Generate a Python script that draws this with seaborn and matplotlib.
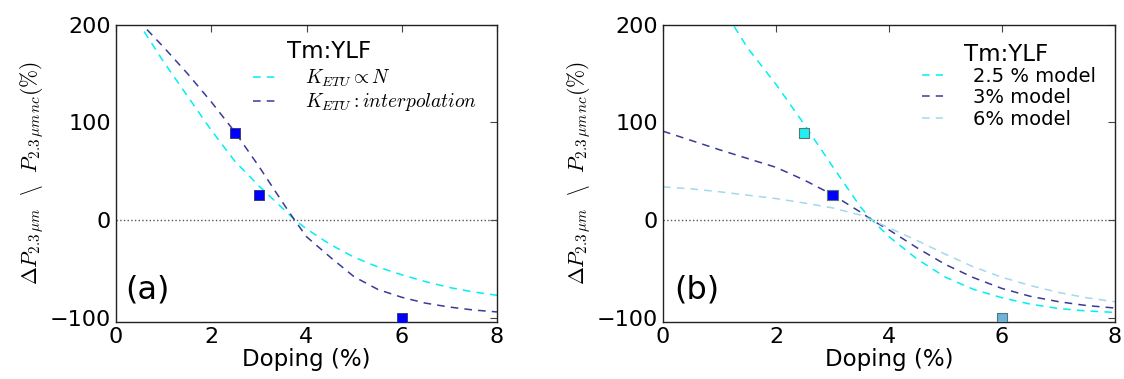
import matplotlib
matplotlib.use("Agg")
import matplotlib.pyplot as plt
import seaborn as sns

# ---- data ----
# panel (a): two K_ETU models
xa_prop = [0.59, 1.0, 1.5, 2.0, 2.5, 3.0, 3.5, 3.76, 4.0, 4.5, 5.0, 5.5, 6.0, 6.5, 7.0, 7.5, 8.0]
ya_prop = [193, 162, 127, 92, 60, 35, 12, 0, -9, -25, -38, -48, -56, -63, -69, -73.5, -77]
xa_interp = [0.65, 1.0, 1.5, 2.0, 2.5, 3.0, 3.5, 3.75, 4.0, 4.5, 5.0, 5.5, 6.0, 6.5, 7.0, 7.5, 8.0]
ya_interp = [195, 177, 150, 121, 90, 55, 18, 0, -17, -38, -58, -71, -79, -85, -89, -92, -94]

# panel (b): three fitted models
xb = [0.0, 0.5, 1.0, 1.5, 2.0, 2.5, 3.0, 3.5, 3.7, 4.0, 4.5, 5.0, 5.5, 6.0, 6.5, 7.0, 7.5, 8.0]
yb_25 = [None, None, 222, 176, 139, 98, 55, 13, 0, -17, -40, -58.5, -71, -79.5, -86, -90.5, -93, -94.5]
yb_3 = [91, 81.5, 72, 63, 54, 41, 26, 8, 0, -10, -28.5, -45.5, -59, -70, -78, -83.5, -87.5, -90]
yb_6 = [34, 32, 29, 25.5, 22, 17.5, 12.5, 5, 0, -8, -21, -35, -48, -58.5, -67, -74, -79.5, -83.6]

# measured points
x_meas = [2.5, 3.0, 6.0]
y_meas = [89, 26, -100]

CYAN = "#00f0f0"
NAVY = "#3a3a98"
SKY = "#a3d8ef"

sns.set_style("white")
plt.rcParams.update({
    "font.family": ["DejaVu Sans"],
    "mathtext.fontset": "cm",
    "text.color": "black",
    "axes.labelcolor": "black",
    "xtick.color": "black",
    "ytick.color": "black",
    "xtick.direction": "in",
    "ytick.direction": "in",
    "xtick.top": True,
    "ytick.right": True,
    "xtick.major.size": 5,
    "ytick.major.size": 5,
    "axes.edgecolor": "#222222",
    "axes.linewidth": 1.0,
})

fig = plt.figure(figsize=(11.24, 3.79), dpi=100)
ax_a = fig.add_axes([116 / 1124, 57.3 / 379, 381 / 1124, 297 / 379])
ax_b = fig.add_axes([663 / 1124, 57.3 / 379, 452 / 1124, 297 / 379])

dash = (5, 4)

# --- panel (a)
sns.lineplot(x=xa_prop, y=ya_prop, ax=ax_a, color=CYAN, lw=1.1, sort=False,
             estimator=None, label=r"$K_{ETU} \propto N$")
sns.lineplot(x=xa_interp, y=ya_interp, ax=ax_a, color=NAVY, lw=1.1, sort=False,
             estimator=None, label=r"$K_{ETU}: interpolation$")
for ln in ax_a.lines:
    ln.set_dashes(dash)
sns.scatterplot(x=x_meas, y=y_meas, ax=ax_a, marker="s", s=55, color="#0000ff",
                edgecolor="#333366", linewidth=0.6, zorder=5, legend=False)

# --- panel (b)
b_lines = [(yb_25, CYAN, "2.5 % model"), (yb_3, NAVY, "3% model"), (yb_6, SKY, "6% model")]
for ys, col, lab in b_lines:
    pts = [(x, y) for x, y in zip(xb, ys) if y is not None]
    sns.lineplot(x=[p[0] for p in pts], y=[p[1] for p in pts], ax=ax_b, color=col,
                 lw=1.1, sort=False, estimator=None, label=lab)
for ln in ax_b.lines:
    ln.set_dashes(dash)
sns.scatterplot(x=x_meas, y=y_meas, ax=ax_b, marker="s", s=55,
                hue=["c", "b", "s"], palette={"c": "#20f0f0", "b": "#0000ff", "s": "#6cb4dc"},
                edgecolor="#557777", linewidth=0.8, zorder=5, legend=False)

ylab = r"$\Delta P_{2.3\,\mu m}\ \ \backslash\ \ P_{2.3\,\mu m\, nc}(\%)$"
for ax, tag in [(ax_a, "(a)"), (ax_b, "(b)")]:
    ax.axhline(0, color="#555555", ls=":", lw=1.0, zorder=1)
    ax.set_xlim(0, 8)
    ax.set_ylim(-104, 200)
    ax.set_xticks([0, 2, 4, 6, 8])
    ax.set_yticks([-100, 0, 100, 200])
    ax.tick_params(labelsize=16, width=0.8, color="#444444", labelcolor="black")
    ax.set_xlabel("Doping (%)", fontsize=16.5, labelpad=1)
    ax.set_ylabel(ylab, fontsize=15.5, labelpad=3)
    ax.text(0.025, 0.055, tag, transform=ax.transAxes, fontsize=23, ha="left", va="bottom")

# legend titles placed as text, entries as frameless legends
ax_a.text(0.559, 0.91, "Tm:YLF", transform=ax_a.transAxes, fontsize=16.5,
          ha="center", va="center")
ax_b.text(0.759, 0.9, "Tm:YLF", transform=ax_b.transAxes, fontsize=16.5,
          ha="center", va="center")

ax_a.legend(loc="upper left", bbox_to_anchor=(0.36, 0.855), frameon=False,
            fontsize=14, borderpad=0, borderaxespad=0,
            handlelength=1.15, handletextpad=1.5, labelspacing=0.12)
ax_b.legend(loc="upper left", bbox_to_anchor=(0.573, 0.858), frameon=False,
            fontsize=14, borderpad=0, borderaxespad=0,
            handlelength=1.1, handletextpad=1.5, labelspacing=0.12)

fig.savefig("out.png", dpi=100)
